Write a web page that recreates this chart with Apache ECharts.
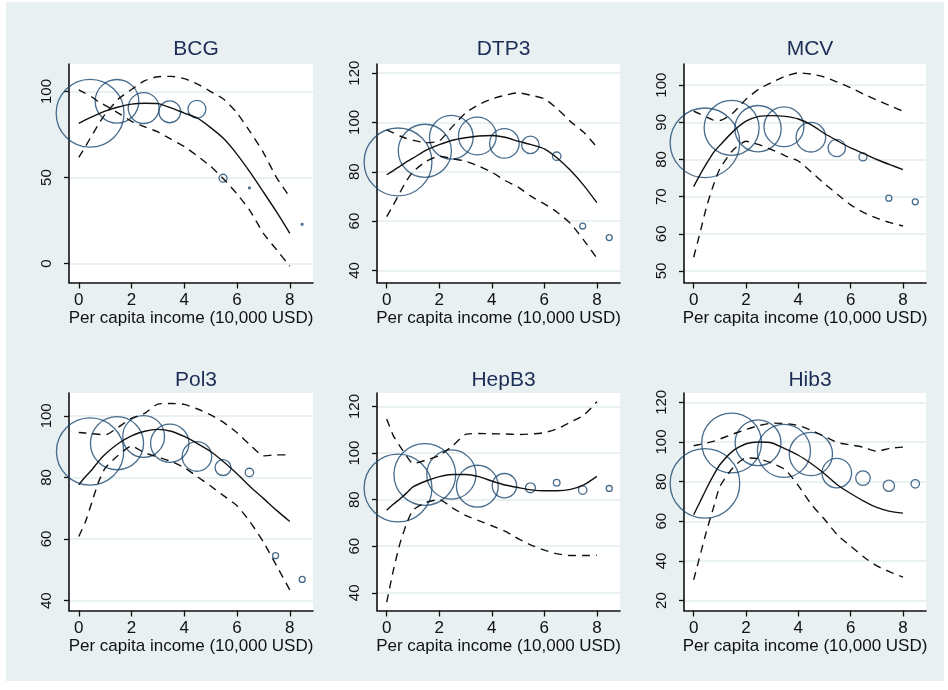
<!DOCTYPE html>
<html>
<head>
<meta charset="utf-8">
<title>Coverage by per capita income</title>
<script src="https://cdn.jsdelivr.net/npm/echarts@6/dist/echarts.min.js"></script>
<style>
  html, body { margin: 0; padding: 0; background: #fff; }
  #chart { width: 948px; height: 690px; }
</style>
</head>
<body>
<div id="chart"></div>
<script>
// panel titles
const vaccines = ["BCG", "DTP3", "MCV", "Pol3", "HepB3", "Hib3"];
const xTitle = "Per capita income (10,000 USD)";

// income of each bubble (10,000 USD)
const binIncome = [0.43, 1.45, 2.46, 3.45, 4.48, 5.47, 6.47, 7.46, 8.47];
// income where the fitted curve and its bands are read
const curveIncome = [0, 0.25, 0.5, 0.75, 1, 1.5, 2, 2.5, 3, 3.5, 4, 4.5, 5, 5.5, 6, 6.5, 7, 7.5, 8];

const xTicks = [0, 2, 4, 6, 8];

// BCG
const bcgCoverage = [87.4, 94.3, 90.4, 88.2, 89.7, 49.6, 44, null, 22.8];
const bcgWeight = [116, 48, 24, 12, 8.1, 1.6, 0.1, null, 0.1];
const bcgFit = [81.5, 83.5, 85.3, 87, 88.6, 91, 92.7, 93.2, 93, 90.5, 87.5, 84.5, 79, 72.5, 63.5, 53, 41.6, 30, 17.6];
const bcgUpper = [61.7, 68, 74.5, 81, 86.8, 95.6, 101.2, 106.3, 108.6, 108.8, 107.5, 104.3, 100, 95.5, 87.5, 76.5, 64.5, 50, 38.7];
const bcgLower = [101, 99, 96.8, 94, 92, 87.5, 82.7, 79.5, 76.5, 72.3, 68, 62.5, 56.5, 49, 40.5, 30.5, 17.6, 8, -1.5];
const bcgTicks = [0, 50, 100];

// DTP3
const dtp3Coverage = [84, 88.5, 94, 94.5, 91.5, 90.9, 86.3, 58, 53.3];
const dtp3Weight = [116, 71, 48, 36, 22, 7.7, 1.8, 0.9, 0.9];
const dtp3Fit = [78.8, 80.5, 82.2, 84, 85.5, 88.8, 91, 92.8, 93.8, 94.5, 94.7, 94, 92.4, 91, 89.3, 85.5, 80.5, 74.5, 67.5];
const dtp3Upper = [97, 95.8, 94.5, 93.5, 92.8, 91.8, 92.5, 98.3, 103.8, 107.2, 109.5, 111, 112, 111, 109.6, 105.5, 100.3, 96, 90];
const dtp3Lower = [61.8, 66.5, 71.5, 76.3, 80, 84.2, 86.3, 85.3, 84.3, 82.3, 79.8, 76.5, 73.8, 70, 67, 63.5, 59, 52.3, 45];
const dtp3Ticks = [40, 60, 80, 100, 120];

// MCV
const mcvCoverage = [84.5, 88.5, 88.3, 88.8, 86, 83.1, 80.7, 69.6, 68.6];
const mcvWeight = [122, 76, 54, 40, 22, 7.6, 1.6, 0.9, 0.9];
const mcvFit = [72.7, 76, 79, 81.8, 83.8, 87.5, 90.3, 91.6, 91.8, 91.6, 90.9, 89.3, 87, 85, 83.1, 81.6, 80, 78.6, 77.3];
const mcvUpper = [93, 92.2, 91.4, 90.6, 90.5, 92.5, 96.2, 99, 100.8, 102.4, 103.3, 103, 102.2, 100.8, 99.3, 97.6, 96, 94.5, 93];
const mcvLower = [53.7, 60.5, 67.5, 73, 77.5, 82.5, 84.9, 84, 82.6, 81, 79.6, 76.6, 73.5, 70.6, 67.8, 65.7, 64.2, 63, 62.1];
const mcvTicks = [50, 60, 70, 80, 90, 100];

// Pol3
const pol3Coverage = [88.4, 91.1, 93.3, 91.1, 86.8, 83.2, 81.6, 54.6, 46.9];
const pol3Weight = [114, 71, 44, 37, 22, 6.4, 1.8, 0.9, 0.9];
const pol3Fit = [77.6, 80.2, 82.5, 85.2, 87.5, 91, 93.5, 95, 95.6, 95, 93.3, 91, 88.4, 85, 81.2, 77, 73.2, 69.3, 65.7];
const pol3Upper = [94.6, 94.4, 94.2, 94, 93.8, 96.3, 99.2, 100.8, 103.8, 104, 103.7, 102.2, 100.3, 97.8, 94.5, 90.5, 87, 87.3, 87.3];
const pol3Lower = [60.8, 65.5, 72, 78.5, 83, 87.2, 90.2, 88, 86.6, 85.2, 83.2, 80.2, 77.2, 74, 70.8, 65.5, 59, 51.3, 43.5];
const pol3Ticks = [40, 60, 80, 100];

// HepB3
const hepb3Coverage = [85, 90.8, 90.8, 85.8, 86, 85.1, 87.3, 84.1, 84.8];
const hepb3Weight = [116, 96, 61, 44, 15, 2.5, 1.1, 1.8, 0.9];
const hepb3Fit = [75.5, 78, 80.3, 82.8, 85.5, 88, 89.9, 90.8, 90.8, 89.9, 88, 86.3, 85.2, 84.2, 83.8, 83.8, 84.4, 86.3, 90];
const hepb3Upper = [114.6, 107.5, 103, 98.8, 95.5, 97, 99, 103, 108, 108.4, 108.3, 108.2, 108, 108.2, 108.8, 110.5, 113.3, 116.3, 122];
const hepb3Lower = [36, 49.5, 61, 69.5, 75.5, 78.8, 80, 76.5, 73.2, 71, 68.8, 66.5, 63.3, 60.5, 58.3, 56.7, 56, 56, 56.1];
const hepb3Ticks = [40, 60, 80, 100, 120];

// Hib3
const hib3Coverage = [79.1, 99.5, 99.6, 95.5, 93.9, 84.3, 81.8, 77.9, 78.9];
const hib3Weight = [122, 90, 53, 71, 47, 22, 5.3, 3.2, 1.8];
const hib3Fit = [63.3, 70, 76.8, 83, 88.5, 95.5, 99.1, 100, 99.5, 96.5, 93.3, 89, 84, 78.3, 74, 70.2, 67, 65, 64.1];
const hib3Upper = [98.1, 98.8, 99.5, 100.3, 101.5, 104, 106.3, 108.3, 109.5, 109.3, 108.3, 105.8, 102.8, 99.7, 98.5, 97.3, 95.3, 96.8, 97.4];
const hib3Lower = [30.5, 43, 55.5, 66.5, 77.5, 87, 92, 91.5, 89.3, 86, 78, 68.5, 61, 53, 47.5, 42, 37.5, 34.5, 31.8];
const hib3Ticks = [20, 40, 60, 80, 100, 120];

const coverage = [bcgCoverage, dtp3Coverage, mcvCoverage, pol3Coverage, hepb3Coverage, hib3Coverage];
const weights = [bcgWeight, dtp3Weight, mcvWeight, pol3Weight, hepb3Weight, hib3Weight];
const fits = [bcgFit, dtp3Fit, mcvFit, pol3Fit, hepb3Fit, hib3Fit];
const uppers = [bcgUpper, dtp3Upper, mcvUpper, pol3Upper, hepb3Upper, hib3Upper];
const lowers = [bcgLower, dtp3Lower, mcvLower, pol3Lower, hepb3Lower, hib3Lower];
const yTicks = [bcgTicks, dtp3Ticks, mcvTicks, pol3Ticks, hepb3Ticks, hib3Ticks];
const yRange = [[-11, 116], [35.1, 123.7], [46.9, 105.7], [36.8, 107.4], [32.4, 125.8], [15, 124.7]];

// layout of the 2 x 3 panels
const colLeft = [69, 377, 684];
const colWidth = [244, 243, 242];
const rowTop = [64, 393];
const rowHeight = [218.5, 217.5];
const titleTop = [34, 365];

const FONT = "'Liberation Sans', Arial, sans-serif";
const NAVY = "#1A476F";
const SIZE_K = 6.3; // bubble diameter per sqrt(weight)

const chart = echarts.init(document.getElementById("chart"));

const grids = [], xAxes = [], yAxes = [], titles = [], series = [];

vaccines.forEach((name, i) => {
  const col = i % 3, row = Math.floor(i / 3);
  grids.push({
    left: colLeft[col], top: rowTop[row],
    width: colWidth[col], height: rowHeight[row],
    show: true, backgroundColor: "#fff", borderWidth: 0,
  });
  titles.push({
    text: name,
    left: colLeft[col] + colWidth[col] / 2,
    top: titleTop[row],
    textAlign: "center",
    textStyle: { fontFamily: FONT, fontSize: 21, fontWeight: "normal", color: "#1B2D55" },
  });
  xAxes.push({
    gridIndex: i, type: "value", min: -0.37, max: 8.88,
    name: xTitle, nameLocation: "middle", nameGap: 27,
    nameTextStyle: { fontFamily: FONT, fontSize: 17, color: "#111" },
    axisLine: { show: true, onZero: false, lineStyle: { color: "#111", width: 1.6 } },
    axisTick: { show: true, customValues: xTicks, length: 6, lineStyle: { color: "#111", width: 1.3 } },
    axisLabel: { customValues: xTicks, fontFamily: FONT, fontSize: 17, color: "#111", margin: 9 },
    splitLine: { show: false },
  });
  yAxes.push({
    gridIndex: i, type: "value", min: yRange[i][0], max: yRange[i][1],
    axisLine: { show: true, onZero: false, lineStyle: { color: "#111", width: 1.6 } },
    axisTick: { show: true, customValues: yTicks[i], length: 5, lineStyle: { color: "#111", width: 1.3 } },
    axisLabel: { customValues: yTicks[i], rotate: 90, fontFamily: FONT, fontSize: 15, color: "#111", margin: 15 },
    splitLine: { show: true, lineStyle: { color: "#E2ECEF", width: 1.6 } },
  });

  const bubbles = [];
  binIncome.forEach((x, k) => {
    if (coverage[i][k] != null) bubbles.push([x, coverage[i][k], weights[i][k]]);
  });
  series.push({
    type: "scatter", xAxisIndex: i, yAxisIndex: i, data: bubbles,
    symbol: "circle", symbolSize: (v) => SIZE_K * Math.sqrt(v[2]),
    itemStyle: { color: "rgba(0,0,0,0)", borderColor: NAVY, borderWidth: 1.3 },
    z: 2,
  });
  const curve = (arr) => curveIncome.map((x, k) => [x, arr[k]]);
  series.push({
    type: "line", xAxisIndex: i, yAxisIndex: i, data: curve(fits[i]),
    symbol: "none", smooth: 0.2,
    lineStyle: { color: "#111", width: 1.4 }, z: 3,
  });
  [uppers[i], lowers[i]].forEach((band) => {
    series.push({
      type: "line", xAxisIndex: i, yAxisIndex: i, data: curve(band),
      symbol: "none", smooth: 0.2,
      lineStyle: { color: "#111", width: 1.4, type: [8, 6] }, z: 3,
    });
  });
});

chart.setOption({
  animation: false,
  backgroundColor: "#fff",
  graphic: [{
    type: "rect", z: -100, silent: true,
    shape: { x: 6, y: 2, width: 938, height: 679 },
    style: { fill: "#E8F0F2" },
  }],
  title: titles,
  grid: grids,
  xAxis: xAxes,
  yAxis: yAxes,
  series: series,
});
</script>
</body>
</html>
